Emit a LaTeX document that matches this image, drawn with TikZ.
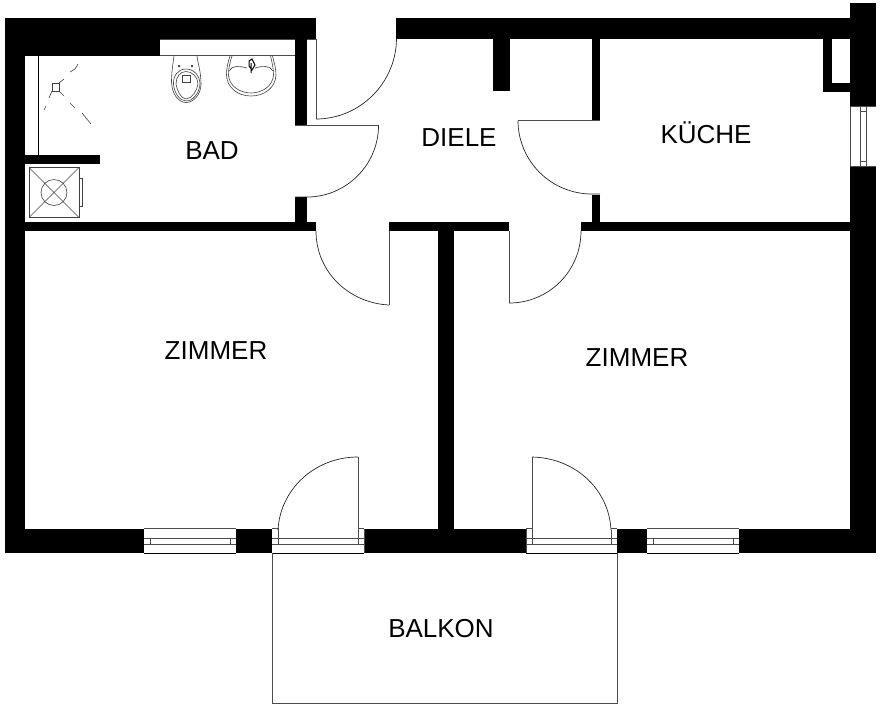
\documentclass[tikz,border=0pt]{standalone}
\usepackage{fontspec}
\setmainfont{Liberation Sans}
\tikzset{
  wall/.style={fill=black,draw=none},
  thin line/.style={draw=black!70,line width=0.8pt},
  swing/.style={draw=black!85,line width=0.7pt},
  fixture/.style={draw=black!75,line width=0.6pt},
  room/.style={font=\fontsize{26}{30}\selectfont,text=black,inner sep=0pt},
}
\begin{document}
\begin{tikzpicture}[x=1pt,y=-1pt]
\useasboundingbox (0,0) rectangle (882,710);
% walls
\fill[wall] (5,18) rectangle (25,553);
\fill[wall] (5,18) rectangle (316,39);
\fill[wall] (25,39) rectangle (160,56);
\fill[wall] (295,39) rectangle (307,125);
\fill[wall] (295,197) rectangle (307,222);
\fill[wall] (25,222) rectangle (316,231);
\fill[wall] (396,18) rectangle (850,39);
\fill[wall] (493,39) rectangle (510,91);
\fill[wall] (592,39) rectangle (600,121);
\fill[wall] (592,195) rectangle (600,222);
\fill[wall] (389,222) rectangle (509,231);
\fill[wall] (581,222) rectangle (850,231);
\fill[wall] (438,231) rectangle (454,529);
\fill[wall] (850,3) rectangle (876,106);
\fill[wall] (850,167) rectangle (876,553);
\fill[wall] (823,39) rectangle (832,92);
\fill[wall] (823,83) rectangle (850,92);
\fill[wall] (25,155) rectangle (100,164);
\fill[wall] (5,529) rectangle (144,553);
\fill[wall] (236,529) rectangle (272,553);
\fill[wall] (364,529) rectangle (526,553);
\fill[wall] (617,529) rectangle (647,553);
\fill[wall] (739,529) rectangle (876,553);
% niche and stubs
\draw[thin line] (160,55.5) -- (295,55.5);
\draw[thin line] (160,39.5) -- (295,39.5);
\draw[thin line] (307,39.5) -- (316,39.5);
% doors
\draw[thin line] (316,39) -- (316,119);
\draw[swing] (316,119) .. controls (360,119) and (396,83) .. (396.5,39);
\draw[thin line] (295,125.5) -- (378.5,125.5);
\draw[swing] (378.5,125.5) .. controls (378.5,165) and (346,197) .. (307,197) -- (295,197);
\draw[thin line] (518,120.5) -- (600,120.5);
\draw[swing] (518,120.5) .. controls (518,161) and (551,194) .. (592,194) -- (600,194);
\draw[thin line] (389,231) -- (389,305);
\draw[swing] (389,305) .. controls (349,303) and (316,272) .. (316,231);
\draw[thin line] (509,231) -- (509,303);
\draw[swing] (509,303) .. controls (549,303) and (581,271) .. (581,231);
% bottom window left
\draw[thin line] (144,528.5) -- (236,528.5) (144,538.5) -- (236,538.5) (144,544.5) -- (236,544.5);
\draw[thin line] (150,538.5) -- (150,544.5) (230,538.5) -- (230,544.5);
\draw[draw=black,line width=0.8pt] (144,553) -- (236,553);
% balcony door left
\draw[thin line] (272,528.5) -- (278,528.5) (358,528.5) -- (364,528.5) (272,538.5) -- (364,538.5) (272,544.5) -- (364,544.5);
\draw[thin line] (278,528) -- (278,544.5) (358,457) -- (358,544.5) (364,528.5) -- (364,553);
\draw[swing] (278,530) .. controls (280,490) and (314,457) .. (358,457);
\draw[draw=black,line width=0.8pt] (272,553) -- (364,553);
% balcony door right
\draw[thin line] (526,528.5) -- (532,528.5) (611,528.5) -- (617,528.5) (526,538.5) -- (617,538.5) (526,544.5) -- (617,544.5);
\draw[thin line] (532,457) -- (532,544.5) (611,530) -- (611,544.5) (526,528.5) -- (526,553);
\draw[swing] (532,457) .. controls (576,458) and (609,490) .. (611,530);
\draw[draw=black,line width=0.8pt] (526,553) -- (617,553);
% bottom window right
\draw[thin line] (647,528.5) -- (739,528.5) (647,538.5) -- (739,538.5) (647,544.5) -- (739,544.5);
\draw[thin line] (653,538.5) -- (653,544.5) (733,538.5) -- (733,544.5);
\draw[draw=black,line width=0.8pt] (647,553) -- (739,553);
% balcony
\draw[thin line] (272.5,553) -- (272.5,703.5) -- (617.5,703.5) -- (617.5,553);
% right window
\draw[thin line] (850,106.5) -- (876,106.5) (850,166.5) -- (876,166.5) (850,106) -- (850,167);
\draw[thin line] (860,106.5) -- (860,166.5) (866,106.5) -- (866,166.5) (860,111) -- (866,111) (860,161) -- (866,161);
% shower
\draw[draw=black,line width=0.8pt] (38.5,56) -- (38.5,155);
\draw[fixture] (52,83) rectangle (59,91);
\draw[fixture] (59,83) -- (64,79) (70,72) -- (75,69) (75,69) -- (78,64);
\draw[fixture] (59,91) -- (64,96) (70,103) -- (75,108) (82,113) -- (91,124);
\draw[fixture] (52,91) -- (49,98) (46,106) -- (44,110);
% boiler
\draw[fixture] (29,167.5) rectangle (79,217.5);
\draw[fixture] (29,167.5) -- (79,217.5) (79,167.5) -- (29,217.5);
\draw[fixture] (54,192.5) circle[radius=13];
\draw[fixture] (79,178) -- (82,178) -- (82,206) -- (79,206);
% WC
\draw[fixture] (174,56) .. controls (173,64) and (171.5,72) .. (171.5,82) .. controls (172,95) and (179,102.5) .. (186,102.5) .. controls (193,102.5) and (201,95) .. (201,84) .. controls (201,72) and (198,64) .. (197,56);
\draw[fixture] (186,69) .. controls (178,69) and (173,76) .. (173.5,84) .. controls (174,93) and (180,101) .. (186,101) .. controls (193,101) and (199.5,93) .. (200,84) .. controls (200,76) and (194,69) .. (186,69);
\draw[fixture] (186,71.5) .. controls (180,71.5) and (176,77) .. (176,84) .. controls (177,91) and (181,98.5) .. (186,99) .. controls (192,98.5) and (197,91) .. (198,84) .. controls (198,77) and (192,71.5) .. (186,71.5);
\draw[fixture] (182.5,75) rectangle (190,82.5);
\fill[black!70] (178,65) rectangle (180,67) (191,65) rectangle (193,67);
% basin
\draw[fixture] (230,56) .. controls (228,62) and (226.5,68) .. (226.5,75) .. controls (227,88) and (238,96) .. (251,96) .. controls (264,96) and (275.5,88) .. (276,75) .. controls (276,68) and (274,62) .. (272.5,56);
\draw[fixture] (232,56) .. controls (230,62) and (228.5,68) .. (228.5,75) .. controls (229,86) and (240,93) .. (251,93) .. controls (262,93) and (273,86) .. (273.5,75) .. controls (273.5,68) and (272,62) .. (270.5,56);
\draw[fixture] (229,71) .. controls (232,65) and (240,66) .. (247,68) (255,68) .. controls (262,66) and (270,65) .. (273,71);
\draw[draw=black,line width=1pt] (249,61) -- (252,59) -- (255,65) -- (252,70) -- (249,66) -- cycle (251,63) -- (251,73);
% labels
\node[room] (bad) at (212,151) {BAD};
\node[room] (diele) at (459,138) {DIELE};
\node[room] (kueche) at (706,133) {KÜCHE};
\node[room] (zimmerl) at (216,351) {ZIMMER};
\node[room] (zimmerr) at (637,358) {ZIMMER};
\node[room] (balkon) at (441,629) {BALKON};
\end{tikzpicture}
\end{document}
